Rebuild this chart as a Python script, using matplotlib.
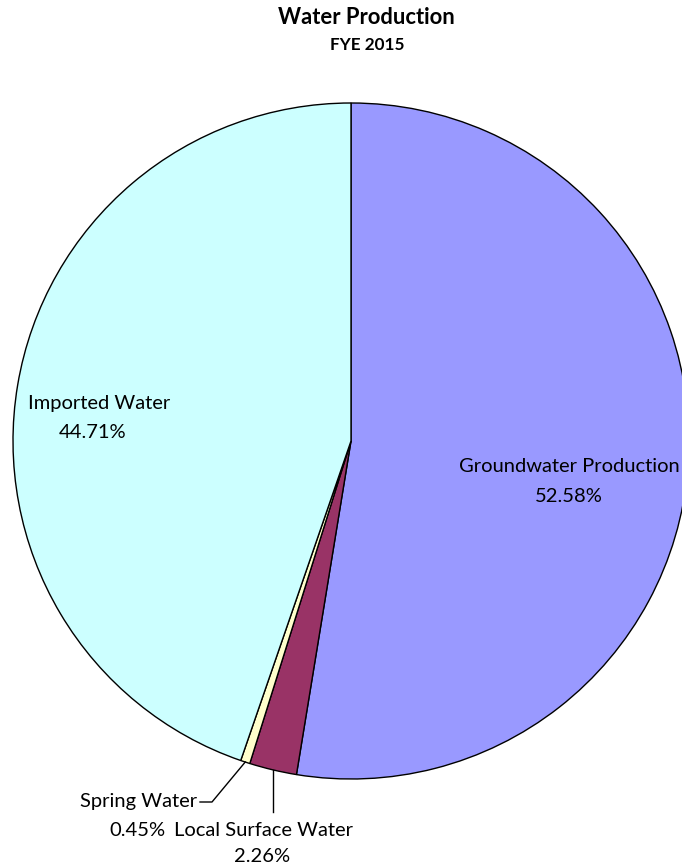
import matplotlib.pyplot as plt
import numpy as np

plt.rcParams['font.family'] = ['Lato', 'DejaVu Sans']

labels = ["Groundwater Production", "Local Surface Water", "Spring Water", "Imported Water"]
shares = [52.58, 2.26, 0.45, 44.71]
colors = ["#9999FF", "#993366", "#FFFFCC", "#CCFFFF"]

W, H = 682, 867
fig = plt.figure(figsize=(W / 100, H / 100), dpi=100)
ax = fig.add_axes([0, 0, 1, 1])
ax.set_xlim(0, W)
ax.set_ylim(0, H)
ax.set_aspect("equal")
ax.axis("off")

cx, cy, r = 351, H - 441, 338
wedges, _ = ax.pie(shares, colors=colors, startangle=90, counterclock=False,
                   center=(cx, cy), radius=r,
                   wedgeprops=dict(edgecolor="black", linewidth=1))
ax.set_xlim(0, W)
ax.set_ylim(0, H)

def pct(v):
    return f"{v:.2f}%"

fs = 14.5
# inside labels
ax.text(99, H - 404, labels[3], ha="center", va="center", fontsize=fs)
ax.text(93, H - 432, pct(shares[3]), ha="center", va="center", fontsize=fs)
ax.text(569, H - 467, labels[0], ha="center", va="center", fontsize=fs)
ax.text(569, H - 496, pct(shares[0]), ha="center", va="center", fontsize=fs)

# leader lines from wedge mid-angles
def edge_point(w):
    a = np.deg2rad((w.theta1 + w.theta2) / 2)
    return cx + r * np.cos(a), cy + r * np.sin(a)

x1, y1 = edge_point(wedges[1])
ax.plot([x1, x1], [y1, H - 812], color="black", lw=1)
ax.text(263, H - 830, labels[1], ha="center", va="center", fontsize=fs)
ax.text(262, H - 856, pct(shares[1]), ha="center", va="center", fontsize=fs)

x2, y2 = edge_point(wedges[2])
ax.plot([x2, 212, 200], [y2, H - 802, H - 802], color="black", lw=1)
ax.text(197, H - 802, labels[2], ha="right", va="center", fontsize=fs)
ax.text(137, H - 830, pct(shares[2]), ha="center", va="center", fontsize=fs)

fig.text(366 / W, 1 - 18 / H, "Water Production", ha="center", va="center",
         fontsize=15.8, fontweight="bold")
fig.text(367 / W, 1 - 45 / H, "FYE 2015", ha="center", va="center",
         fontsize=12.3, fontweight="bold")

fig.savefig("out.png", dpi=100)
